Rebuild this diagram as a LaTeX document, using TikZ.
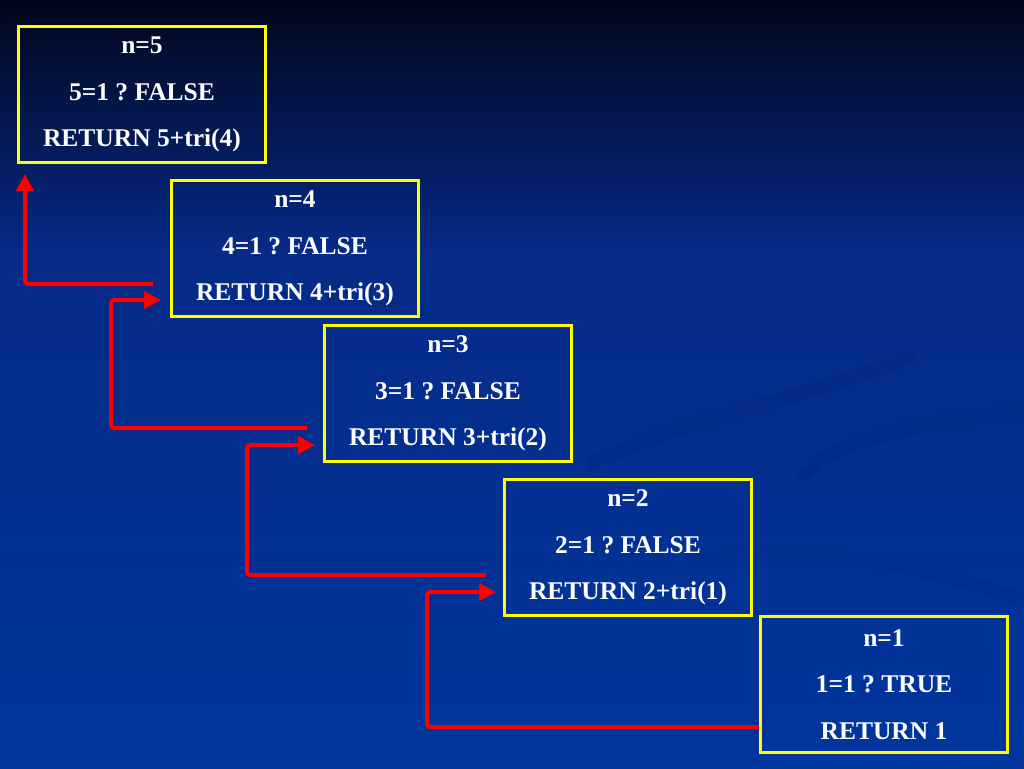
\documentclass[tikz,border=0pt]{standalone}
\usepackage{fontspec}
\setmainfont{Liberation Serif}
\usetikzlibrary{calc,arrows.meta}
\frenchspacing
\definecolor{bgtop}{RGB}{2,6,28}
\definecolor{bgmid}{RGB}{6,42,134}
\definecolor{bgbot}{RGB}{0,54,158}
\definecolor{boxyellow}{RGB}{255,255,0}
\definecolor{arrowred}{RGB}{255,0,0}
\definecolor{swirl}{RGB}{0,30,110}
\tikzset{
  recbox/.style={draw=boxyellow, line width=3pt, rectangle, anchor=north west,
    minimum width=247pt, minimum height=136pt, inner sep=0pt, align=center,
    text=white, font=\bfseries\frenchspacing\fontsize{25.5}{46.5}\selectfont},
  ret/.style={draw=arrowred, line width=4pt, line join=round, rounded corners=3pt,
    -{Triangle[length=17pt,width=17pt]}},
  swirlband/.style={draw=swirl, line width=14pt, opacity=0.18, line cap=round}
}
\begin{document}
\begin{tikzpicture}[x=1pt,y=-1pt]
\useasboundingbox (0,0) rectangle (1024,768);
\shade[top color=bgtop, bottom color=bgmid] (0,0) rectangle (1024,250);
\shade[top color=bgmid, bottom color=bgbot] (0,250) rectangle (1024,768);
% faint swirls
\draw[swirlband] (593,463) .. controls (680,420) and (800,400) .. (910,357);
\draw[swirlband] (805,475) .. controls (830,440) and (930,420) .. (1024,412);
\draw[swirlband, opacity=0.1] (700,560) .. controls (800,540) and (900,560) .. (1024,600);
% boxes
\node[recbox] (b5) at (17,25) {n=5\\5=1 ? FALSE\\RETURN 5+tri(4)};
\node[recbox] (b4) at (170,179) {n=4\\4=1 ? FALSE\\RETURN 4+tri(3)};
\node[recbox] (b3) at (323,324) {n=3\\3=1 ? FALSE\\RETURN 3+tri(2)};
\node[recbox] (b2) at (503,478) {n=2\\2=1 ? FALSE\\RETURN 2+tri(1)};
\node[recbox] (b1) at (759,615) {n=1\\1=1 ? TRUE\\RETURN 1};
% return arrows
\draw[ret] ($(b4.south west)+(-17,-34)$) -| ($(b5.south west)+(8,10)$);
\draw[ret] ($(b3.south west)+(-16,-35)$) -| ($(b4.south west)+(-59,-18)$) -- ($(b4.south west)+(-9,-18)$);
\draw[ret] ($(b2.south west)+(-17,-42)$) -| ($(b3.south west)+(-76,-18)$) -- ($(b3.south west)+(-8,-18)$);
\draw[ret] (b1.south west |- {$(b1.south west)+(0,-27)$}) -| ($(b2.south west)+(-76,-25)$) -- ($(b2.south west)+(-7,-25)$);
\end{tikzpicture}
\end{document}
